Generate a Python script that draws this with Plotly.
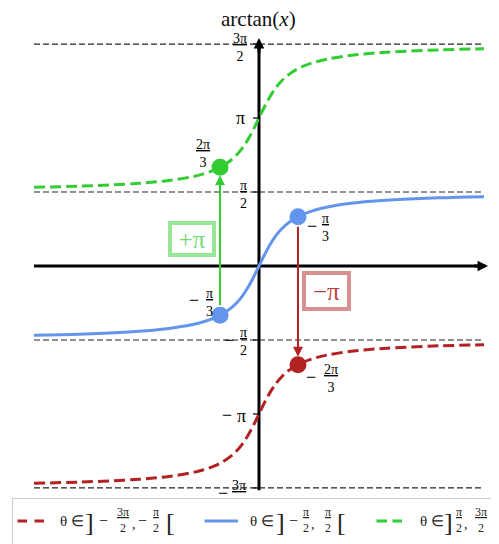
import plotly.graph_objects as go

# ---------------- data ----------------
X_VALUES = [-10, -8, -6, -5, -4, -3, -2.5, -2, -1.75, -1.5, -1.25, -1, -0.75, -0.5, -0.25, 0,
            0.25, 0.5, 0.75, 1, 1.25, 1.5, 1.75, 2, 2.5, 3, 4, 5, 6, 8, 10]
BRANCH_MAIN = [-1.4711, -1.4464, -1.4056, -1.3734, -1.3258, -1.2490, -1.1903, -1.1071, -1.0517,
               -0.9828, -0.8961, -0.7854, -0.6435, -0.4636, -0.2450, 0.0, 0.2450, 0.4636, 0.6435,
               0.7854, 0.8961, 0.9828, 1.0517, 1.1071, 1.1903, 1.2490, 1.3258, 1.3734, 1.4056,
               1.4464, 1.4711]
BRANCH_UP = [1.6705, 1.6952, 1.7360, 1.7682, 1.8158, 1.8926, 1.9513, 2.0345, 2.0899, 2.1588,
             2.2455, 2.3562, 2.4981, 2.6780, 2.8966, 3.1416, 3.3866, 3.6052, 3.7851, 3.9270,
             4.0377, 4.1244, 4.1933, 4.2487, 4.3319, 4.3906, 4.4674, 4.5150, 4.5472, 4.5880, 4.6127]
BRANCH_DOWN = [-4.6127, -4.5880, -4.5472, -4.5150, -4.4674, -4.3906, -4.3319, -4.2487, -4.1933,
               -4.1244, -4.0377, -3.9270, -3.7851, -3.6052, -3.3866, -3.1416, -2.8966, -2.6780,
               -2.4981, -2.3562, -2.2455, -2.1588, -2.0899, -2.0345, -1.9513, -1.8926, -1.8158,
               -1.7682, -1.7360, -1.6952, -1.6705]

ASYMPTOTES = [4.7124, 1.5708, -1.5708, -4.7124]
ASYM_X = [-10, 10]

POINT_X = [-1.7321, -1.7321, 1.7321, 1.7321]
POINT_Y = [-1.0472, 2.0944, 1.0472, -2.0944]

TICK_Y = [4.7124, 3.1416, 1.5708, -1.5708, -3.1416, -4.7124]
# (minus sign, numerator, denominator); denominator None -> plain symbol
TICK_LABELS = [("", "3π", "2"), ("", "π", None), ("", "π", "2"),
               ("−", "π", "2"), ("−", "π", None), ("−", "3π", "2")]
POINT_LABELS = [("−", "π", "3"), ("", "2π", "3"), ("−", "π", "3"), ("−", "2π", "3")]

LEGEND_NAMES = ["θ ∈ ]−3π/2, −π/2[", "θ ∈ ]−π/2, π/2[", "θ ∈ ]π/2, 3π/2["]

# ---------------- style / layout ----------------
W, H = 499, 544
PAGE = 8                   # default page margin around the plot div
OX, OY = 259 - PAGE, 266 - PAGE   # figure-pixel position of the data origin
SX, SY = 22.5, 47.1        # pixels per data unit
X_RANGE = [-OX / SX, (W - OX) / SX]
Y_RANGE = [-(H - OY) / SY, OY / SY]

BLUE = "#6495ED"
GREEN = "#32CD32"
RED = "#B22222"
FONT = "Liberation Serif"
FRAC = 14

fig = go.Figure()

for yv in ASYMPTOTES:
    fig.add_trace(go.Scatter(x=ASYM_X, y=[yv, yv], mode="lines",
                             line=dict(color="#222222", width=1.2, dash="6px,3px"),
                             hoverinfo="skip"))

fig.add_trace(go.Scatter(x=X_VALUES, y=BRANCH_DOWN, mode="lines", name=LEGEND_NAMES[0],
                         line=dict(color=RED, width=3, dash="11px,5px", shape="spline")))
fig.add_trace(go.Scatter(x=X_VALUES, y=BRANCH_MAIN, mode="lines", name=LEGEND_NAMES[1],
                         line=dict(color=BLUE, width=3, shape="spline")))
fig.add_trace(go.Scatter(x=X_VALUES, y=BRANCH_UP, mode="lines", name=LEGEND_NAMES[2],
                         line=dict(color=GREEN, width=3, dash="11px,5px", shape="spline")))

fig.add_trace(go.Scatter(x=POINT_X, y=POINT_Y, mode="markers",
                         marker=dict(size=17, color=[BLUE, GREEN, BLUE, RED], line=dict(width=0))))

shapes = []
# axes (below traces)
shapes.append(dict(type="line", xref="x", yref="y", x0=-10, x1=9.9, y0=0, y1=0,
                   line=dict(color="black", width=3), layer="below"))
shapes.append(dict(type="line", xref="x", yref="y", x0=0, x1=0, y0=-4.76, y1=4.65,
                   line=dict(color="black", width=3), layer="below"))
for ty in TICK_Y:
    shapes.append(dict(type="line", xref="x", yref="y", xsizemode="pixel", xanchor=0,
                       x0=-6, x1=0, y0=ty, y1=ty, line=dict(color="black", width=1.2),
                       layer="below"))

ann = []


def data_text(text, x, y, dx, dy, size, color="black"):
    ann.append(dict(text=text, x=x, y=y, xref="x", yref="y", xshift=dx, yshift=-dy,
                    showarrow=False, xanchor="center", yanchor="middle",
                    font=dict(family=FONT, size=size, color=color)))


def data_label(minus, num, den, x, y, dx, dy, mdx):
    if den is None:
        data_text(num, x, y, dx, dy, 18)
        if minus:
            data_text(minus, x, y, mdx, dy - 1, 18)
    else:
        data_text(f"<u>{num}</u><br>{den}", x, y, dx, dy, FRAC)
        if minus:
            data_text(minus, x, y, mdx, dy - 2, 18)


# tick labels (pixel offsets from the tick position on the y axis)
TICK_OFFS = [(-19, 3, 0), (-19, 0, 0), (-16, 2, 0), (-16, 2, -30), (-18, 2, -32), (-20, 7, -36)]
for ty, (mn, nm, dn), (dx, dy, mdx) in zip(TICK_Y, TICK_LABELS, TICK_OFFS):
    data_label(mn, nm, dn, 0, ty, dx, dy, mdx)

PT_OFFS = [(-11, -13, -26), (-17, -14, 0), (28, 11, 14), (33, 14, 13)]
for px_, py_, (mn, nm, dn), (dx, dy, mdx) in zip(POINT_X, POINT_Y, POINT_LABELS, PT_OFFS):
    data_label(mn, nm, dn, px_, py_, dx, dy, mdx)

# +pi / -pi boxes
ann.append(dict(text="+π", x=-2.98, y=0.573, xref="x", yref="y", showarrow=False,
                font=dict(family=FONT, size=25, color="rgba(50,205,50,0.7)"),
                bordercolor="rgba(50,205,50,0.5)", borderwidth=4, borderpad=1,
                bgcolor="white", width=38, height=26))
ann.append(dict(text="−π", x=3.02, y=-0.531, xref="x", yref="y", showarrow=False,
                font=dict(family=FONT, size=25, color="rgba(178,34,34,0.9)"),
                bordercolor="rgba(178,34,34,0.5)", borderwidth=4, borderpad=1,
                bgcolor="white", width=39, height=30))

# shift arrows
ann.append(dict(text=" ", x=POINT_X[1], y=POINT_Y[1], ax=POINT_X[0], ay=POINT_Y[0],
                xref="x", yref="y", axref="x", ayref="y", showarrow=True, arrowhead=2,
                arrowsize=1, arrowwidth=2, arrowcolor=GREEN, standoff=8,
                font=dict(size=12)))
ann.append(dict(text=" ", x=POINT_X[3], y=POINT_Y[3], ax=POINT_X[2], ay=POINT_Y[2],
                xref="x", yref="y", axref="x", ayref="y", showarrow=True, arrowhead=2,
                arrowsize=1, arrowwidth=2, arrowcolor=RED, standoff=8,
                font=dict(size=12)))

# axis arrowheads
ann.append(dict(text="", x=10.18, y=0, ax=9.5, ay=0, xref="x", yref="y", axref="x", ayref="y",
                showarrow=True, arrowhead=2, arrowsize=0.7, arrowwidth=3, arrowcolor="black",
                font=dict(size=1)))
ann.append(dict(text="", x=0, y=4.84, ax=0, ay=4.5, xref="x", yref="y", axref="x", ayref="y",
                showarrow=True, arrowhead=2, arrowsize=0.7, arrowwidth=3, arrowcolor="black",
                font=dict(size=1)))


# ---------------- page-pixel helpers ----------------
def P(px, py):
    return (px - PAGE) / W, 1 - (py - PAGE) / H


# title
tx, ty = P(259, 19)
ann.append(dict(text="arctan(<i>x</i>)", x=tx, y=ty, xref="paper", yref="paper",
                showarrow=False, xanchor="center", yanchor="middle",
                font=dict(family=FONT, size=21, color="#111111")))

# ---------------- legend (drawn manually, clipped at the right edge) ----------------
bx, by = P(12, 498)
ann.append(dict(text=" ", x=bx, y=by, xref="paper", yref="paper", xanchor="left", yanchor="top",
                showarrow=False, width=520, height=70, bgcolor="white",
                bordercolor="#cccccc", borderwidth=1, borderpad=0))


def sample(x0, x1, color, py=521):
    sx, sy = P(x1, py)
    ann.append(dict(text="", x=sx, y=sy, xref="paper", yref="paper", ax=-(x1 - x0), ay=0,
                    showarrow=True, arrowhead=0, arrowwidth=3, arrowcolor=color,
                    font=dict(size=1)))


def ptext(text, px, py, size, xanchor="center"):
    x, y = P(px, py)
    ann.append(dict(text=text, x=x, y=y, xref="paper", yref="paper", showarrow=False,
                    xanchor=xanchor, yanchor="middle",
                    font=dict(family=FONT, size=size, color="#222222")))


def pfrac(num, den, px, py=520):
    ptext(f"<u>{num}</u><br>{den}", px, py, 12)


sample(16, 27, RED)
sample(33, 44, RED)
sample(203, 238, BLUE)
sample(375, 387, GREEN)
sample(391, 402, GREEN)

LEG_Y = 521
# red entry
ptext("θ ∈", 58, LEG_Y, 15, "left")
ptext("]", 89, LEG_Y + 1, 26)
ptext("−", 103, LEG_Y - 1, 16)
pfrac("3π", "2", 123)
ptext(",", 134, LEG_Y + 3, 14)
ptext("−", 142, LEG_Y - 1, 16)
pfrac("π", "2", 156)
ptext("[", 170, LEG_Y + 1, 26)
# blue entry
ptext("θ ∈", 248, LEG_Y, 15, "left")
ptext("]", 280, LEG_Y + 1, 26)
ptext("−", 293, LEG_Y - 1, 16)
pfrac("π", "2", 306)
ptext(",", 313, LEG_Y + 3, 14)
pfrac("π", "2", 328)
ptext("[", 341, LEG_Y + 1, 26)
# green entry
ptext("θ ∈", 418, LEG_Y, 15, "left")
ptext("]", 448, LEG_Y + 1, 26)
pfrac("π", "2", 459)
ptext(",", 466, LEG_Y + 3, 14)
pfrac("3π", "2", 481)
ptext("[", 498, LEG_Y + 1, 26)

fig.update_layout(
    width=W, height=H,
    margin=dict(l=0, r=0, t=0, b=0),
    paper_bgcolor="white", plot_bgcolor="white",
    showlegend=False,
    xaxis=dict(range=X_RANGE, visible=False, fixedrange=True),
    yaxis=dict(range=Y_RANGE, visible=False, fixedrange=True),
    shapes=shapes,
    annotations=ann,
)

fig.write_html("out.html")
